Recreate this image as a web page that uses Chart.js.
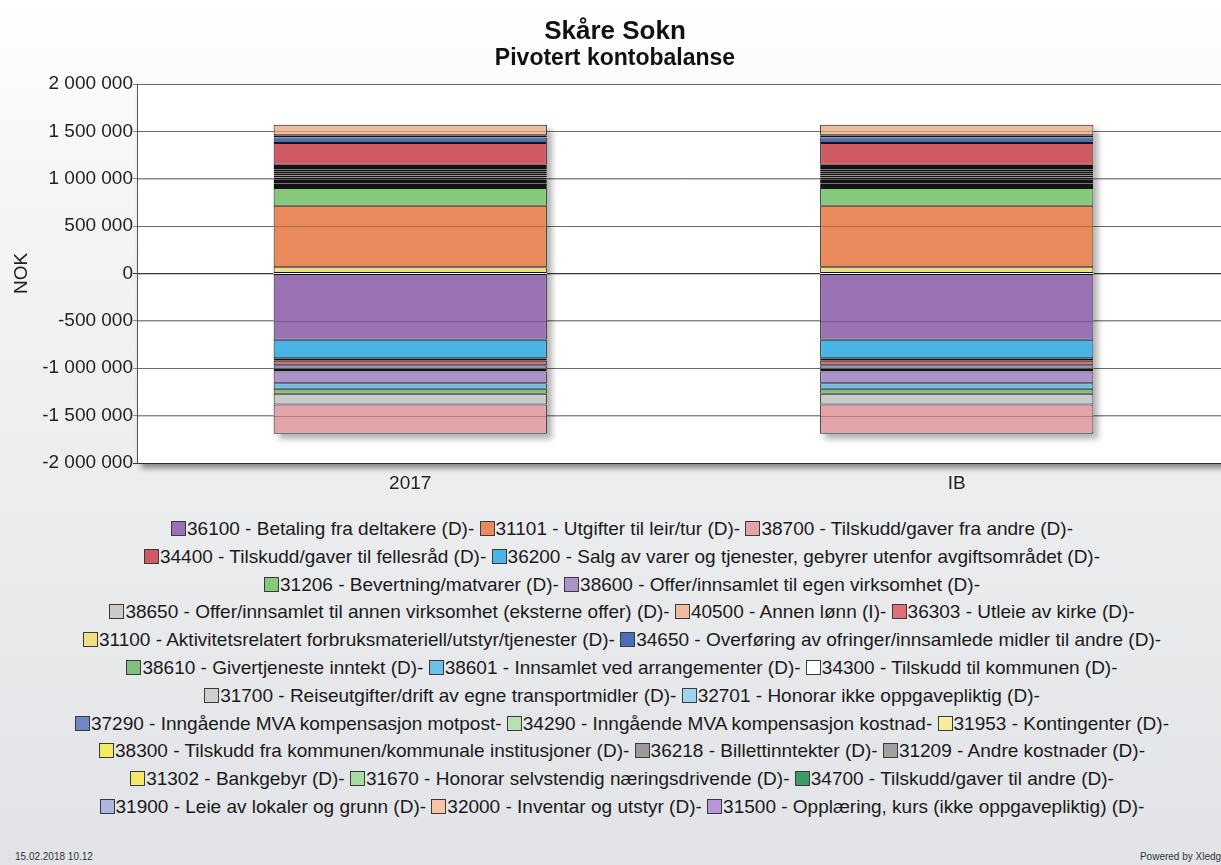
<!DOCTYPE html>
<html>
<head>
<meta charset="utf-8">
<script src="https://cdn.jsdelivr.net/npm/chart.js@4.4.1/dist/chart.umd.min.js"></script>
<style>
html,body{margin:0;padding:0;}
body{width:1221px;height:865px;overflow:hidden;background:linear-gradient(to bottom,#ffffff 0%,#f4f5f6 22%,#e1e3e6 100%);font-family:'Liberation Sans',Arial,sans-serif;}
#wrap{position:relative;width:1244px;height:865px;}
#chartBox{position:absolute;left:0;top:0;width:1244px;height:500px;}
#legend{position:absolute;left:0;top:515px;width:1244px;text-align:center;font-size:19px;line-height:27.8px;color:#1a1a1a;}
.row{white-space:nowrap;}
.sw{display:inline-block;width:13px;height:13px;border:1px solid #3a3a3a;vertical-align:-1px;margin-right:1px;}
#date{position:absolute;left:15px;top:851px;font-size:10px;line-height:12px;color:#333;}
#powered{position:absolute;right:14px;top:851px;font-size:10px;line-height:12px;color:#333;}
</style>
</head>
<body>
<div id="wrap">
  <div id="chartBox"><canvas id="c" width="1244" height="500"></canvas></div>
  <div id="legend"></div>
  <div id="date">15.02.2018 10.12</div>
  <div id="powered">Powered by Xledger</div>
</div>
<script>
const categories = ['2017', 'IB'];

const accounts = ['36100','31101','38700','34400','36200','31206','38600','38650','40500','36303',
  '31100','34650','38610','38601','34300','31700','32701','37290','34290','31953',
  '38300','36218','31209','31302','31670','34700','31900','32000','31500'];

const accountNames = [
  'Betaling fra deltakere (D)-',
  'Utgifter til leir/tur (D)-',
  'Tilskudd/gaver fra andre (D)-',
  'Tilskudd/gaver til fellesråd (D)-',
  'Salg av varer og tjenester, gebyrer utenfor avgiftsområdet (D)-',
  'Bevertning/matvarer (D)-',
  'Offer/innsamlet til egen virksomhet (D)-',
  'Offer/innsamlet til annen virksomhet (eksterne offer) (D)-',
  'Annen lønn (I)-',
  'Utleie av kirke (D)-',
  'Aktivitetsrelatert forbruksmateriell/utstyr/tjenester (D)-',
  'Overføring av ofringer/innsamlede midler til andre (D)-',
  'Givertjeneste inntekt (D)-',
  'Innsamlet ved arrangementer (D)-',
  'Tilskudd til kommunen (D)-',
  'Reiseutgifter/drift av egne transportmidler (D)-',
  'Honorar ikke oppgavepliktig (D)-',
  'Inngående MVA kompensasjon motpost-',
  'Inngående MVA kompensasjon kostnad-',
  'Kontingenter (D)-',
  'Tilskudd fra kommunen/kommunale institusjoner (D)-',
  'Billettinntekter (D)-',
  'Andre kostnader (D)-',
  'Bankgebyr (D)-',
  'Honorar selvstendig næringsdrivende (D)-',
  'Tilskudd/gaver til andre (D)-',
  'Leie av lokaler og grunn (D)-',
  'Inventar og utstyr (D)-',
  'Opplæring, kurs (ikke oppgavepliktig) (D)-'
];

const seriesColors = ['#9a72b4','#e98a5c','#e2a3a9','#cf5a64','#4ab4e6','#86c97a','#ad93cc','#c9cac9','#f0bc9f','#dc6f77',
  '#f1df84','#4b6cb8','#7fbf7f','#6cc0e8','#ffffff','#cfcfcf','#9fd4f0','#6f86c8','#b8e0b0','#f5ed9c',
  '#f3ea62','#9a9a9a','#a0a0a0','#f2e86a','#a8dca0','#3d9b68','#a9b8dc','#f6c4a6','#b696d8'];

const values2017 = [-699000, 649000, -309000, 228000, -196000, 186000, -126000, -112000, 110000, -48000,
  67000, 59000, -53000, -58000, 24000, 24000, 23000, -36000, 23000, 23000,
  -28000, -26000, 22000, 22000, 22000, 24000, 21000, 21000, 21000];

const valuesIB = [-699000, 649000, -309000, 228000, -196000, 186000, -126000, -112000, 110000, -48000,
  67000, 59000, -53000, -58000, 24000, 24000, 23000, -36000, 23000, 23000,
  -28000, -26000, 22000, 22000, 22000, 24000, 21000, 21000, 21000];

const yTickValues = [-2000000, -1500000, -1000000, -500000, 0, 500000, 1000000, 1500000, 2000000];

const legendRowSizes = [3, 2, 2, 3, 2, 3, 2, 3, 3, 3, 3];

function fmt(v) {
  const s = Math.abs(v).toString().replace(/\B(?=(\d{3})+(?!\d))/g, ' ');
  return (v < 0 ? '-' : '') + s;
}

Chart.defaults.font.family = "'Liberation Sans', Arial, sans-serif";

// stacking follows account number order
const order = accounts.map((a, i) => i).sort((a, b) => Number(accounts[a]) - Number(accounts[b]));
const datasets = order.map(i => ({
  label: accounts[i] + ' - ' + accountNames[i],
  data: [values2017[i], valuesIB[i]],
  backgroundColor: seriesColors[i],
  borderColor: '#141414',
  borderWidth: ctx => (Math.abs(ctx.raw) < 30000 ? 2 : 1),
  borderSkipped: false,
  stack: 's',
  categoryPercentage: 1.0,
  barPercentage: 0.5
}));

const plotBg = {
  id: 'plotBg',
  beforeDraw(chart) {
    const { ctx, chartArea: a } = chart;
    ctx.save();
    ctx.shadowColor = 'rgba(0,0,0,0.45)';
    ctx.shadowBlur = 6;
    ctx.shadowOffsetX = 4;
    ctx.shadowOffsetY = 5;
    ctx.fillStyle = '#ffffff';
    ctx.fillRect(a.left, a.top, a.right - a.left, a.bottom - a.top);
    ctx.restore();
  }
};

const barShadow = {
  id: 'barShadow',
  beforeDatasetsDraw(chart) {
    const { ctx } = chart;
    const y = chart.scales.y;
    categories.forEach((c, ci) => {
      let pos = 0, neg = 0, x = 0, w = 0;
      chart.data.datasets.forEach((ds, di) => {
        const v = ds.data[ci];
        if (v > 0) pos += v; else neg += v;
        const el = chart.getDatasetMeta(di).data[ci];
        x = el.x; w = el.width;
      });
      const top = y.getPixelForValue(pos), bot = y.getPixelForValue(neg);
      ctx.save();
      ctx.shadowColor = 'rgba(0,0,0,0.3)';
      ctx.shadowBlur = 6;
      ctx.shadowOffsetX = 5;
      ctx.shadowOffsetY = 5;
      ctx.fillStyle = '#ffffff';
      ctx.fillRect(x - w / 2, top, w, bot - top);
      ctx.restore();
    });
  }
};

const gridOverlay = {
  id: 'gridOverlay',
  afterDatasetsDraw(chart) {
    const { ctx, chartArea: a } = chart;
    const y = chart.scales.y;
    ctx.save();
    ctx.strokeStyle = 'rgba(0,0,0,0.22)';
    ctx.lineWidth = 1;
    yTickValues.forEach(v => {
      const py = Math.round(y.getPixelForValue(v)) + 0.5;
      ctx.beginPath();
      ctx.moveTo(a.left, py);
      ctx.lineTo(a.right, py);
      ctx.stroke();
    });
    ctx.restore();
  }
};

new Chart(document.getElementById('c'), {
  type: 'bar',
  data: { labels: categories, datasets: datasets },
  options: {
    responsive: false,
    animation: false,
    devicePixelRatio: 1,
    layout: { padding: { left: 0, right: 14, top: 0, bottom: 0 } },
    plugins: {
      legend: { display: false },
      tooltip: { enabled: false },
      title: { display: true, text: 'Skåre Sokn', color: '#111', font: { size: 26, weight: 'bold', lineHeight: 1 }, padding: { top: 19, bottom: 0 } },
      subtitle: { display: true, text: 'Pivotert kontobalanse', color: '#111', font: { size: 23, weight: 'bold', lineHeight: 1 }, padding: { top: 2, bottom: 14 } }
    },
    scales: {
      x: {
        stacked: true,
        grid: { display: false, drawTicks: false },
        border: { display: false },
        ticks: { font: { size: 19 }, color: '#222', padding: 9 },
        afterFit(s) { s.height = 37; }
      },
      y: {
        stacked: true,
        min: -2000000,
        max: 2000000,
        afterBuildTicks(s) { s.ticks = yTickValues.map(v => ({ value: v })); },
        ticks: { font: { size: 19 }, color: '#222', padding: 0, callback: v => fmt(v) },
        grid: {
          color: ctx => (ctx.tick && (ctx.tick.value === 0 || ctx.tick.value === -2000000)) ? '#3a3a3a' : '#8a8a8a',
          tickLength: 4,
          lineWidth: 1
        },
        border: { color: '#555', width: 1 },
        title: { display: true, text: 'NOK', color: '#222', font: { size: 19 }, padding: { top: 10, bottom: 0 } },
        afterFit(s) { s.width = 137; }
      }
    }
  },
  plugins: [plotBg, barShadow, gridOverlay]
});

// HTML legend, in the reference order
const legendEl = document.getElementById('legend');
let k = 0;
legendRowSizes.forEach(n => {
  const row = document.createElement('div');
  row.className = 'row';
  const parts = [];
  for (let j = 0; j < n && k < accounts.length; j++, k++) {
    parts.push('<span class="sw" style="background:' + seriesColors[k] + '"></span>' + accounts[k] + ' - ' + accountNames[k]);
  }
  row.innerHTML = parts.join(' ');
  legendEl.appendChild(row);
});
</script>
</body>
</html>
